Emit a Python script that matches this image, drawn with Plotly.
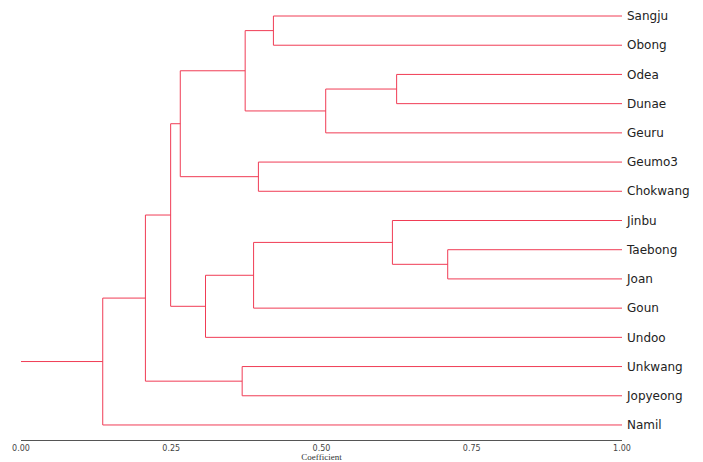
import plotly.graph_objects as go

# Leaves in display order (top to bottom)
leaves = ["Sangju", "Obong", "Odea", "Dunae", "Geuru", "Geumo3", "Chokwang",
          "Jinbu", "Taebong", "Joan", "Goun", "Undoo", "Unkwang", "Jopyeong", "Namil"]

# Merges: node id, left child, right child, coefficient
merge_ids = ["A", "B", "C", "D", "E", "F", "G", "H", "I", "J", "K", "L", "M", "N"]
merge_left = ["Sangju", "Odea", "B", "A", "Geumo3", "D", "Taebong", "Jinbu", "H", "I", "F", "Unkwang", "K", "M"]
merge_right = ["Obong", "Dunae", "Geuru", "C", "Chokwang", "E", "Joan", "G", "Goun", "Undoo", "J", "Jopyeong", "L", "Namil"]
merge_height = [0.420, 0.625, 0.507, 0.373, 0.395, 0.265, 0.710, 0.618, 0.387, 0.307, 0.249, 0.368, 0.207, 0.136]

tick_vals = [0, 0.25, 0.5, 0.75, 1.0]

nodes = {name: (1.0, float(i)) for i, name in enumerate(leaves)}

color = "#f03c55"
xs, ys = [], []
for nid, l, r, h in zip(merge_ids, merge_left, merge_right, merge_height):
    lx, ly = nodes[l]
    rx, ry = nodes[r]
    xs += [lx, h, h, rx, None]
    ys += [ly, ly, ry, ry, None]
    nodes[nid] = (h, (ly + ry) / 2)

# root stub
rx, ry = nodes[merge_ids[-1]]
xs += [0.0, rx, None]
ys += [ry, ry, None]

fig = go.Figure()
fig.add_trace(go.Scatter(x=xs, y=ys, mode="lines",
                         line=dict(color=color, width=1), hoverinfo="skip",
                         showlegend=False))

fig.update_layout(
    width=703, height=462,
    margin=dict(l=21, r=81, t=0, b=22, autoexpand=False),
    paper_bgcolor="white", plot_bgcolor="white",
    xaxis=dict(range=[0, 1], tickvals=tick_vals,
               tickformat=".2f", showgrid=False, zeroline=False,
               showline=True, linecolor="#555555", linewidth=1,
               ticks="", automargin=False,
               tickfont=dict(family="DejaVu Sans", size=8, color="#444444"),
               title=dict(text="Coefficient", standoff=0,
                          font=dict(family="Liberation Serif", size=9, color="#333333"))),
    yaxis=dict(range=[14.514, -0.548], tickvals=list(range(len(leaves))),
               ticktext=leaves, side="right", showgrid=False, zeroline=False,
               showline=False, ticks="", automargin=False, ticklabelstandoff=4,
               tickfont=dict(family="DejaVu Sans", size=12, color="#222222")),
)

fig.write_html("out.html", config={"displayModeBar": False},
               post_script="document.body.style.margin='0';document.body.style.overflow='hidden';")
